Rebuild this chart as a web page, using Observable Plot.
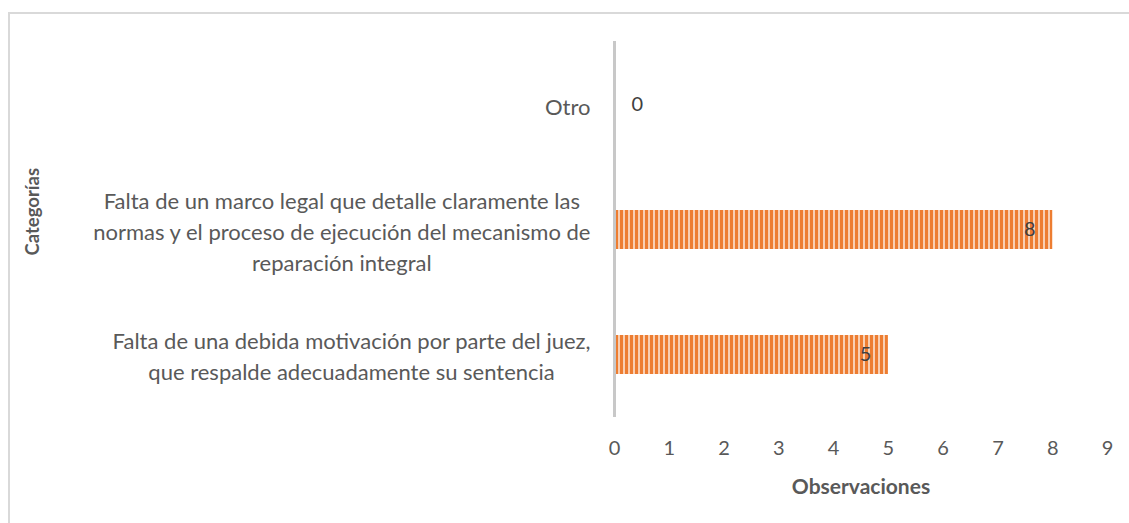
<!DOCTYPE html>
<html>
<head>
<meta charset="utf-8">
<script src="https://cdn.jsdelivr.net/npm/d3@7"></script>
<script src="https://cdn.jsdelivr.net/npm/@observablehq/plot@0.6"></script>
<style>
  html, body { margin: 0; padding: 0; background: #fff; overflow: hidden; }
  #wrap { position: relative; width: 1129px; height: 523px; }
  #frame { position: absolute; left: 8px; top: 12px; width: 1300px; height: 700px; border: 2px solid #d9d9d9; box-sizing: border-box; }
  #chart { position: absolute; left: 0; top: 0; }
</style>
</head>
<body>
<div id="wrap"><div id="frame"></div><div id="chart"></div></div>
<script>
const categories = [
  "Otro",
  "Falta de un marco legal que detalle claramente las\nnormas y el proceso de ejecución del mecanismo de\nreparación integral",
  "Falta de una debida motivación por parte del juez,\nque respalde adecuadamente su sentencia"
];
const values = [0, 8, 5];
const xTicks = [0, 1, 2, 3, 4, 5, 6, 7, 8, 9];
const xLabel = "Observaciones";
const yLabel = "Categorías";

const data = categories.map((c, i) => ({category: c, value: values[i]}));
const FONT = "Lato, 'Open Sans', sans-serif";

const svg = Plot.plot({
  width: 1129,
  height: 523,
  marginLeft: 614,
  marginRight: 22,
  marginTop: 41,
  marginBottom: 106,
  style: {fontFamily: FONT, fontSize: "21px", color: "#595959", background: "transparent", overflow: "visible"},
  x: {domain: [0, 9]},
  y: {domain: categories, paddingInner: 0.69, paddingOuter: 0.345},
  marks: [
    Plot.barX(data, {x: "value", y: "category", fill: "url(#stripes)"}),
    Plot.ruleX([0], {stroke: "#c8c8c8", strokeWidth: 3}),
    Plot.axisX({ticks: xTicks, tickSize: 0, tickPadding: 23, fontSize: 20, fill: "#595959",
      label: xLabel, labelAnchor: "center", labelOffset: 76, labelArrow: "none"}),
    Plot.axisY({tickSize: 0, tickPadding: 24, fontSize: 22, fill: "#595959", lineHeight: 1.41, label: null}),
    Plot.text(data.filter(d => d.value > 0), {x: "value", y: "category", text: d => String(d.value),
      textAnchor: "end", dx: -17, fill: "#404040", fontSize: 20}),
    Plot.text(data.filter(d => d.value === 0), {x: "value", y: "category", text: d => String(d.value),
      textAnchor: "start", dx: 17, fill: "#404040", fontSize: 20}),
    Plot.text([yLabel], {frameAnchor: "left", text: d => d, rotate: -90, dx: -581, dy: 26,
      fontWeight: "bold", fontSize: 18.5, fill: "#595959"})
  ]
});

// stripe pattern
const ns = "http://www.w3.org/2000/svg";
const defs = document.createElementNS(ns, "defs");
defs.innerHTML = '<pattern id="stripes" patternUnits="userSpaceOnUse" width="5" height="10">' +
  '<rect width="5" height="10" fill="#F9CFB2"/><rect width="3" height="10" fill="#ED7D31"/></pattern>';
svg.insertBefore(defs, svg.firstChild);

document.getElementById("chart").appendChild(svg);

// bold x label
svg.querySelectorAll('g[aria-label="x-axis label"] text').forEach(t => {
  t.setAttribute("font-weight", "bold");
  t.setAttribute("font-size", "21");
});

// center multi-line y tick labels within their block
svg.querySelectorAll('g[aria-label="y-axis tick label"] text').forEach(text => {
  const tspans = text.querySelectorAll("tspan");
  if (tspans.length > 1) {
    const w = text.getBBox().width;
    text.setAttribute("text-anchor", "middle");
    tspans.forEach(t => t.setAttribute("x", -w / 2));
  }
});
</script>
</body>
</html>
